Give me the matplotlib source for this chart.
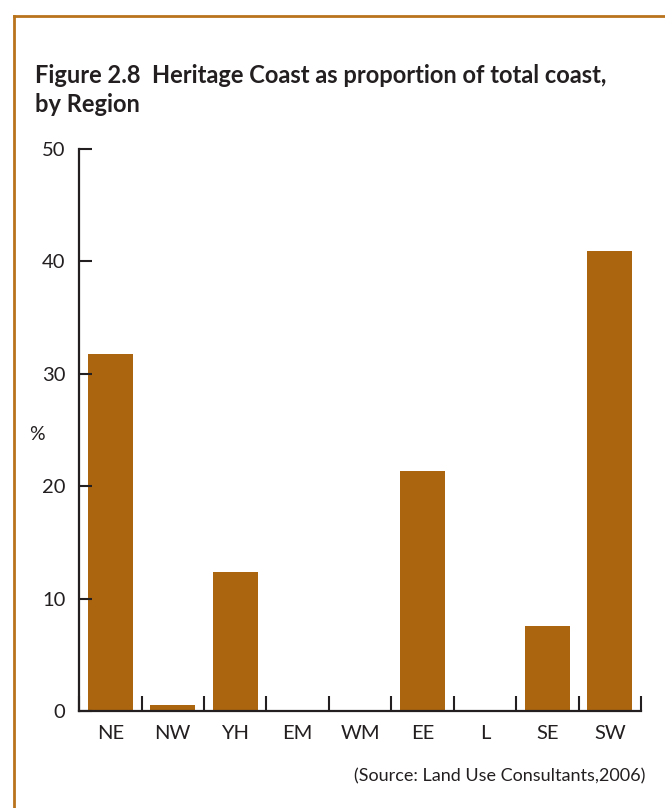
import matplotlib.pyplot as plt
import numpy as np
from matplotlib.lines import Line2D

regions = ['NE', 'NW', 'YH', 'EM', 'WM', 'EE', 'L', 'SE', 'SW']
share = [31.7, 0.5, 12.4, 0, 0, 21.3, 0, 7.6, 40.9]
yticks = [0, 10, 20, 30, 40, 50]

bar_col = '#AB650F'
frame_col = '#B9731C'
ink = '#231F20'

plt.rcParams['font.family'] = ['Lato', 'DejaVu Sans']

fig = plt.figure(figsize=(6.65, 8.08), dpi=100)
ax = fig.add_axes([0.119, 0.12, 0.845, 0.696])

x = np.arange(len(regions))
ax.bar(x, share, width=0.72, color=bar_col)

ax.set_xlim(-0.5, len(regions) - 0.5)
ax.set_ylim(0, 50)

# category labels, no tick marks at centres
ax.set_xticks(x)
ax.set_xticklabels(regions, fontsize=14.5, color=ink)
ax.tick_params(axis='x', length=0, pad=10)

# separators between categories
ax.set_xticks(np.arange(-0.5, len(regions)), minor=True)
ax.tick_params(axis='x', which='minor', direction='in', length=10.5, width=1.5, color=ink)

ax.set_yticks(yticks)
ax.set_yticklabels([str(v) for v in yticks], fontsize=14.5, color=ink)
ax.tick_params(axis='y', direction='in', length=9, width=1.5, color=ink, pad=10)

for s in ['top', 'right']:
    ax.spines[s].set_visible(False)
for s in ['left', 'bottom']:
    ax.spines[s].set_linewidth(1.6)
    ax.spines[s].set_color(ink)

fig.text(0.056, 0.462, '%', fontsize=14, color=ink, ha='center', va='center')

fig.text(0.053, 0.889, 'Figure 2.8  Heritage Coast as proportion of total coast,\nby Region',
         fontsize=17, fontweight='bold', color=ink, va='center', linespacing=1.33)
fig.text(0.971, 0.039, '(Source: Land Use Consultants,2006)', fontsize=13, color=ink,
         ha='right', va='center')

# orange frame on top and left
fig.add_artist(Line2D([0.021, 1.0], [0.98, 0.98], color=frame_col, lw=2, transform=fig.transFigure))
fig.add_artist(Line2D([0.021, 0.021], [0.98, 0.0], color=frame_col, lw=2, transform=fig.transFigure))

fig.savefig('out.png', dpi=100)
